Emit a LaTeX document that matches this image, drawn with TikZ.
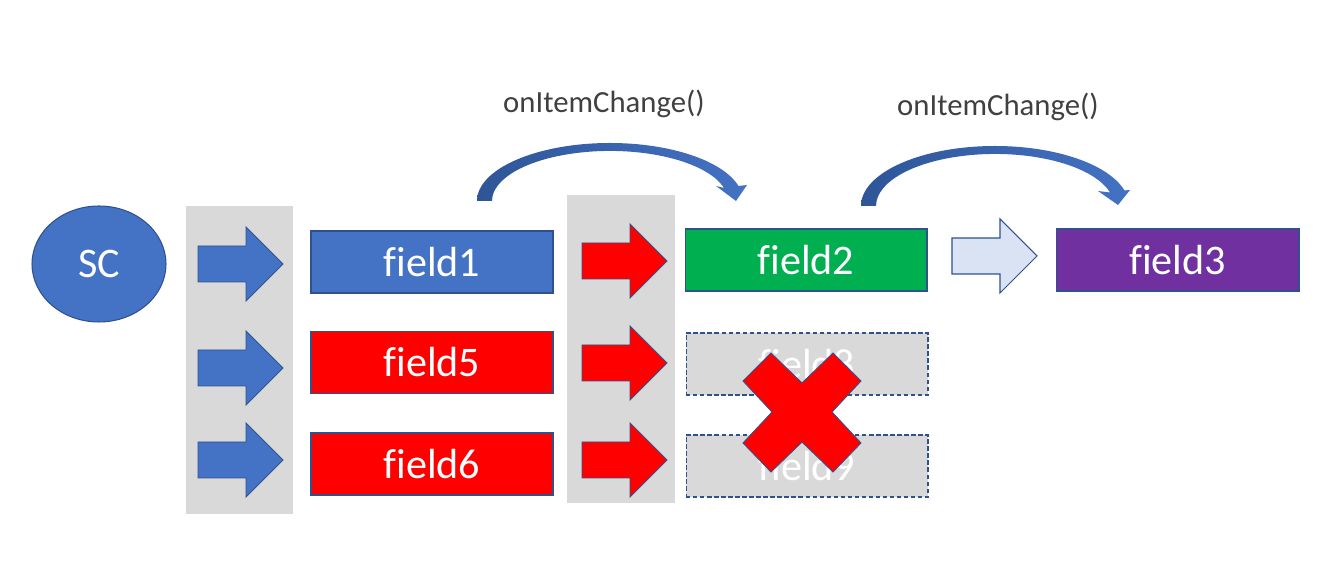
\documentclass[tikz,border=0pt]{standalone}
\usepackage{fontspec}
\setmainfont{Carlito}[Ligatures=NoCommon]
\usetikzlibrary{shapes.geometric, positioning}

\definecolor{scblue}{HTML}{4472C4}
\definecolor{edgeblue}{HTML}{2F528F}
\definecolor{arcdark}{HTML}{2E5597}
\definecolor{panelgray}{HTML}{D9D9D9}
\definecolor{okgreen}{HTML}{00B050}
\definecolor{fieldpurple}{HTML}{7030A0}
\definecolor{paleblue}{HTML}{DAE3F3}
\definecolor{labelgray}{HTML}{404040}

\begin{document}
\begin{tikzpicture}[
            x=0.02cm, y=-0.02cm,
            field/.style={
                draw=edgeblue, line width=0.6pt,
                minimum width=4.84cm, minimum height=1.24cm,
                text=white, font=\fontsize{24}{28}\selectfont
            },
            deadfield/.style={field, fill=panelgray, dash pattern=on 2.5pt off 1.5pt},
            panel/.style={fill=panelgray},
            bluearrow/.style={fill=scblue, draw=edgeblue, line width=0.5pt},
            redarrow/.style={fill=red, draw=edgeblue, line width=0.5pt},
            palearrow/.style={fill=paleblue, draw=edgeblue, line width=0.6pt},
            callarc/.style={left color=arcdark, right color=scblue},
            calllabel/.style={text=labelgray, font=\fontsize{17.5}{21}\selectfont},
            pics/blockarrow/.style={
                code={
                    \path[#1] (0,-18) -- (48,-18) -- (48,-37) -- (85,0)
                        -- (48,37) -- (48,18) -- (0,18) -- cycle;
                }
            }
        ]
        \path[use as bounding box] (0,0) rectangle (1343,573);

        % gray columns behind the arrows
        \fill[panel] (186,206) rectangle (293,514);
        \fill[panel] (567,195) rectangle (675,503);

        \node[ellipse, fill=scblue, draw=edgeblue, line width=0.6pt,
            minimum width=2.68cm, minimum height=2.32cm,
            text=white, font=\fontsize{24}{28}\selectfont] (sc) at (99,264) {SC};

        \pic at (198,264) {blockarrow=bluearrow};
        \pic at (198,368) {blockarrow=bluearrow};
        \pic at (198,460) {blockarrow=bluearrow};

        \node[field, fill=scblue] (field1) at (432,262) {field1};
        \node[field, fill=red] (field5) at (432,362.5) {field5};
        \node[field, fill=red] (field6) at (432,464) {field6};

        \pic at (582,261) {blockarrow=redarrow};
        \pic at (582,363) {blockarrow=redarrow};
        \pic at (582,460) {blockarrow=redarrow};

        \node[field, fill=okgreen] (field2) at (806,260) {field2};
        \node[deadfield] (field8) at (807,364) {field8};
        \node[deadfield] (field9) at (807,466) {field9};

        % the cross over the dropped fields
        \path[fill=red, draw=edgeblue, line width=0.5pt]
            (743,381) -- (771,353) -- (802,383) -- (833,353) -- (861,381) -- (832,412)
            -- (861,443) -- (833,472) -- (802,442) -- (771,472) -- (743,443) -- (772,412) -- cycle;

        \pic at (952,256) {blockarrow=palearrow};
        \node[field, fill=fieldpurple, minimum width=4.86cm] (field3) at (1177.5,260) {field3};

        % curved call arrows
        \path[callarc] (477,201) arc[start angle=180, end angle=345, x radius=133, y radius=58]
            -- (747,185) -- (736,201) -- (716,186) -- (724,188)
            arc[start angle=345, end angle=180, x radius=118, y radius=50] -- cycle;
        \path[callarc] (861,206) arc[start angle=180, end angle=345, x radius=134, y radius=60]
            -- (1130,190) -- (1118,205) -- (1098,191) -- (1110,192.5)
            arc[start angle=345, end angle=180, x radius=119, y radius=52] -- cycle;

        \node[calllabel] (callA) at (604,104) {onItemChange()};
        \node[calllabel] (callB) at (998,107) {onItemChange()};
    \end{tikzpicture}
\end{document}
